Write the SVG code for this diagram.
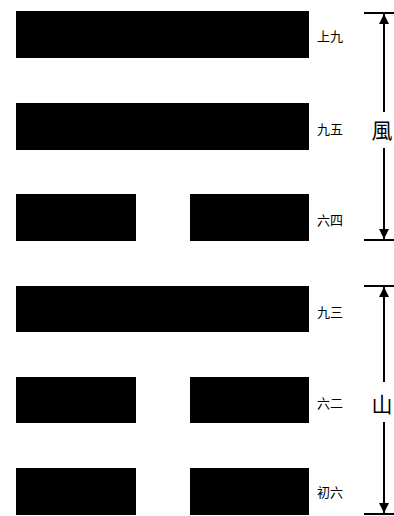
<svg xmlns="http://www.w3.org/2000/svg" width="394" height="516" viewBox="0 0 394 516">
<defs>
<style>
.bar{fill:#000}
.lbl{font-family:"Noto Sans CJK TC","Noto Sans CJK SC",serif;font-size:13px;fill:#000;dominant-baseline:central}
.big{font-family:"Noto Sans CJK TC","Noto Sans CJK SC",serif;font-size:21px;fill:#000;text-anchor:middle;dominant-baseline:central}
.ln{stroke:#000;stroke-width:2;fill:none}
</style>
<marker id="ah" viewBox="0 0 10 10" refX="10" refY="5" markerWidth="5" markerHeight="6" markerUnits="strokeWidth" orient="auto">
<path d="M0,0 L10,5 L0,10 z" fill="#000"/>
</marker>
</defs>
<rect width="394" height="516" fill="#fff"/>
<g id="line6"><rect class="bar" x="16" y="11" width="293" height="47"/><text class="lbl" x="317" y="35">上九</text></g>
<g id="line5"><rect class="bar" x="16" y="103" width="293" height="47"/><text class="lbl" x="317" y="128">九五</text></g>
<g id="line4"><rect class="bar" x="16" y="194" width="120" height="47"/><rect class="bar" x="190" y="194" width="119" height="47"/><text class="lbl" x="317" y="219">六四</text></g>
<g id="line3"><rect class="bar" x="16" y="286" width="293" height="46"/><text class="lbl" x="317" y="311">九三</text></g>
<g id="line2"><rect class="bar" x="16" y="377" width="120" height="46"/><rect class="bar" x="190" y="377" width="119" height="46"/><text class="lbl" x="317" y="402">六二</text></g>
<g id="line1"><rect class="bar" x="16" y="468" width="120" height="47"/><rect class="bar" x="190" y="468" width="119" height="47"/><text class="lbl" x="317" y="491">初六</text></g>
<g id="wind"><text class="big" x="382" y="129">風</text></g>
<g id="mountain"><text class="big" x="382" y="403">山</text></g>
<g id="connectors">
<line class="ln" x1="364" y1="13" x2="394" y2="13"/>
<line class="ln" x1="364" y1="240" x2="394" y2="240"/>
<line class="ln" x1="364" y1="286" x2="394" y2="286"/>
<line class="ln" x1="364" y1="514" x2="394" y2="514"/>
<line class="ln" x1="384" y1="112" x2="384" y2="14" marker-end="url(#ah)"/>
<line class="ln" x1="384" y1="148" x2="384" y2="239" marker-end="url(#ah)"/>
<line class="ln" x1="384" y1="382" x2="384" y2="287" marker-end="url(#ah)"/>
<line class="ln" x1="384" y1="422" x2="384" y2="513" marker-end="url(#ah)"/>
</g>
</svg>
